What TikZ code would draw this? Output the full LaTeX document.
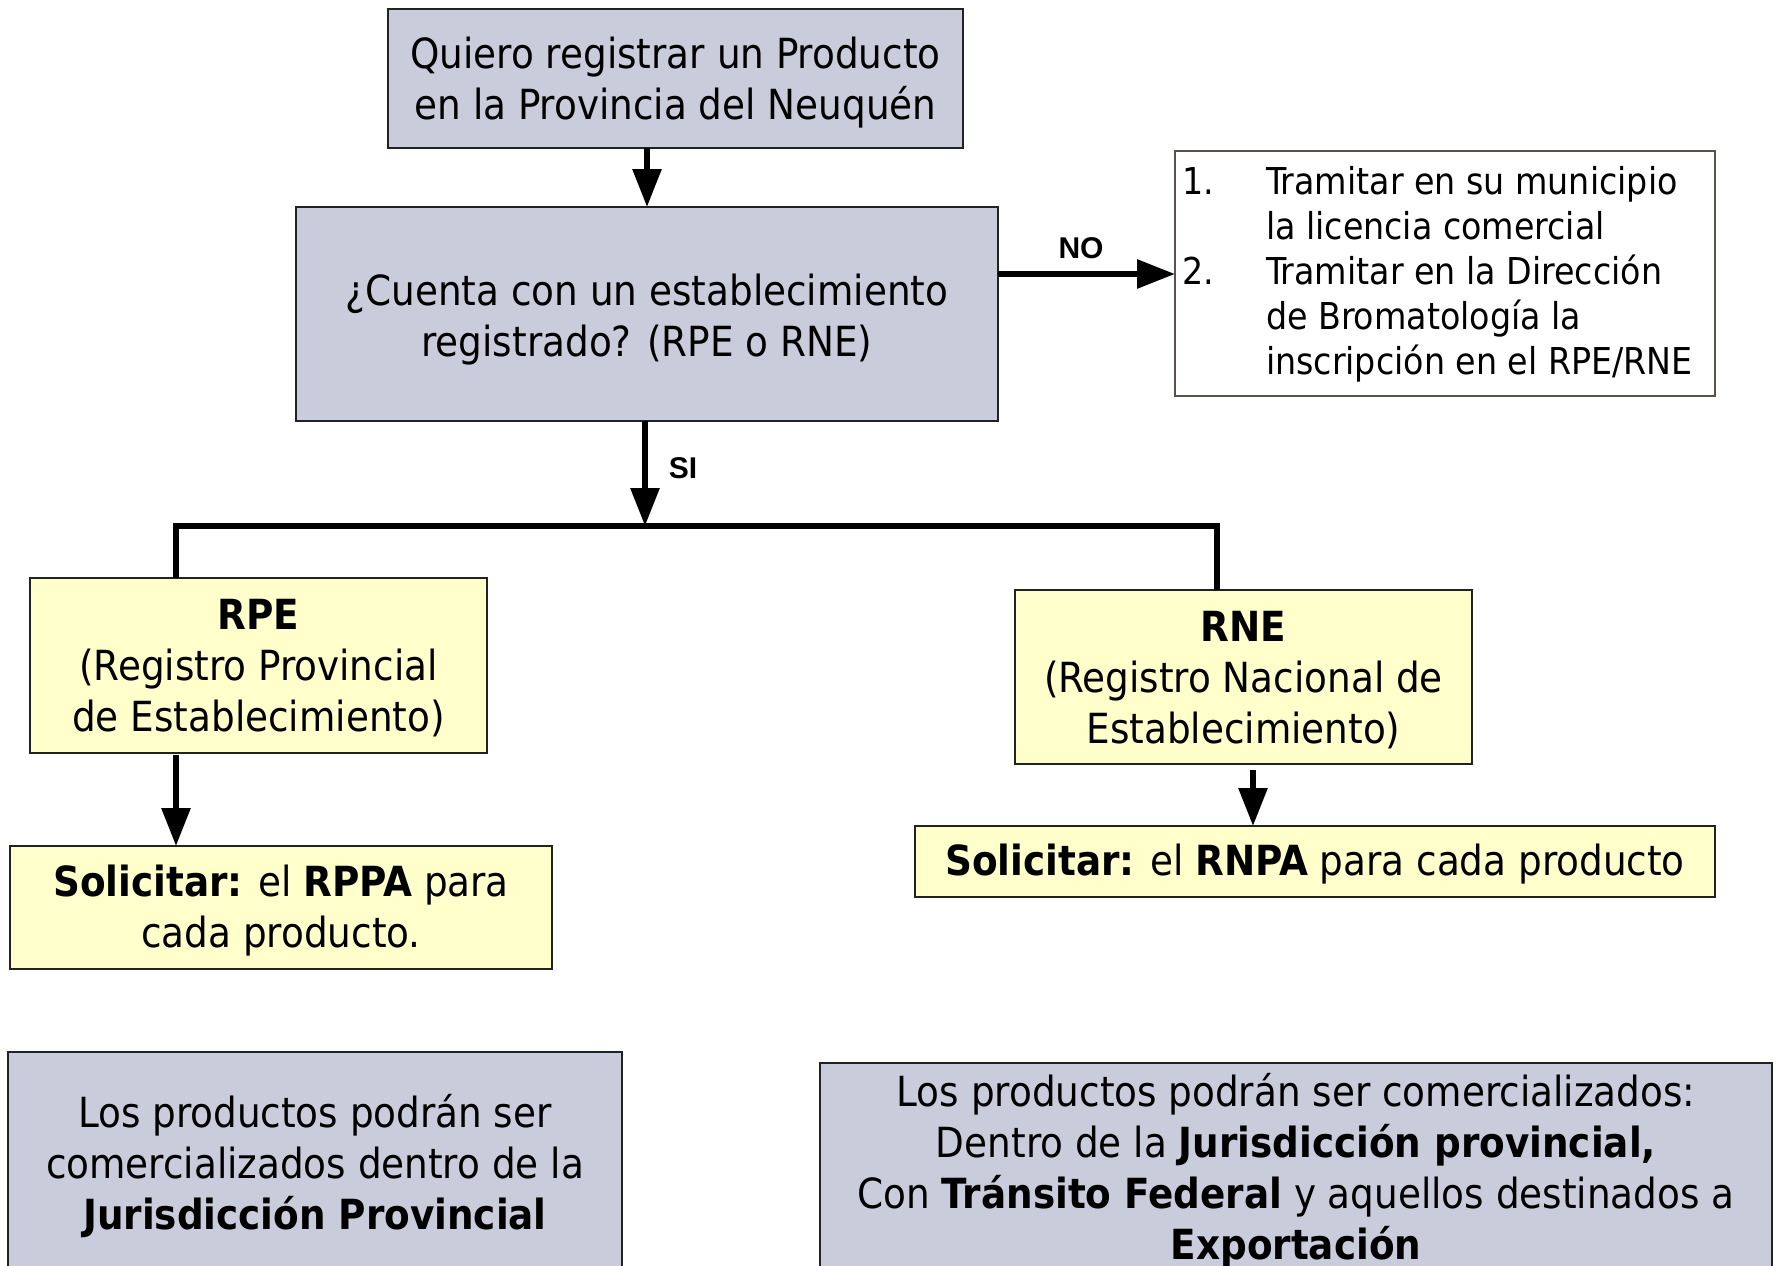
\documentclass[tikz,border=0pt]{standalone}
\usepackage{fontspec}
\setmainfont{DejaVu Sans Condensed}
\newfontfamily\labfont{Liberation Sans}
\usetikzlibrary{arrows.meta}
\definecolor{boxgray}{HTML}{C9CCDB}
\definecolor{boxyellow}{HTML}{FFFFCC}
\definecolor{edgedark}{HTML}{222222}
\definecolor{edgebrown}{HTML}{5A504C}
\tikzset{
  every node/.style={inner sep=0pt, outer sep=0pt},
  graybox/.style={draw=edgedark, line width=2pt, fill=boxgray},
  yelbox/.style={draw=edgedark, line width=2pt, fill=boxyellow},
  listbox/.style={draw=edgebrown, line width=2pt, fill=white},
  txt/.style={align=center, font=\fontsize{41.5}{51}\selectfont},
  arr/.style={line width=6pt, -{Triangle[length=38pt,width=28pt]}},
  plain/.style={line width=6pt},
  lab/.style={font=\labfont\bfseries\fontsize{30}{36}\selectfont},
}
\begin{document}
\begin{tikzpicture}[x=1pt,y=-1pt]
\useasboundingbox (0,0) rectangle (1781,1266);
% boxes
\node[graybox, minimum width=575pt, minimum height=139pt] (top) at (675.5,78.5) {};
\node[txt] (toptxt) at ([yshift=-4pt]top.center)
  {Quiero registrar un Producto\\en la Provincia del Neuquén};
\node[graybox, minimum width=702pt, minimum height=214pt] (q) at (647,314) {};
\node[txt] (qtxt) at ([yshift=-6pt]q.center)
  {¿Cuenta con un establecimiento\\registrado? (RPE o RNE)};
\node[listbox, minimum width=540pt, minimum height=245pt] (list) at (1445,273.5) {};
\node[anchor=north west, align=left, font=\fontsize{37}{45}\selectfont] (listtxt) at (1182,166)
  {\makebox[84pt][l]{1.}Tramitar en su municipio\\
   \hspace*{84pt}la licencia comercial\\
   \makebox[84pt][l]{2.}Tramitar en la Dirección\\
   \hspace*{84pt}de Bromatología la\\
   \hspace*{84pt}inscripción en el RPE/RNE};
\node[yelbox, minimum width=457pt, minimum height=175pt] (rpe) at (258.5,665.5) {};
\node[txt] (rpetxt) at ([yshift=-3pt]rpe.center)
  {\textbf{RPE}\\(Registro Provincial\\de Establecimiento)};
\node[yelbox, minimum width=457pt, minimum height=174pt] (rne) at (1243.5,677) {};
\node[txt] (rnetxt) at ([yshift=-3pt]rne.center)
  {\textbf{RNE}\\(Registro Nacional de\\Establecimiento)};
\node[yelbox, minimum width=542pt, minimum height=123pt] (rppa) at (281,907.5) {};
\node[txt] (rppatxt) at ([yshift=-3pt]rppa.center)
  {\textbf{Solicitar:} el \textbf{RPPA} para\\cada producto.};
\node[yelbox, minimum width=800pt, minimum height=71pt] (rnpa) at (1315,861.5) {};
\node[txt] (rnpatxt) at ([yshift=-3pt]rnpa.center)
  {\textbf{Solicitar:} el \textbf{RNPA} para cada producto};
\node[graybox, minimum width=614pt, minimum height=220pt] (bl) at (315,1162) {};
\node[txt] (bltxt) at ([yshift=-4pt]bl.center)
  {Los productos podrán ser\\comercializados dentro de la\\\textbf{Jurisdicción Provincial}};
\node[graybox, minimum width=952pt, minimum height=208pt] (br) at (1296,1167) {};
\node[txt] (brtxt) at ([yshift=-4pt]br.center)
  {Los productos podrán ser comercializados:\\Dentro de la \textbf{Jurisdicción provincial,}\\Con \textbf{Tránsito Federal} y aquellos destinados a\\\textbf{Exportación}};
% connectors
\coordinate (noy) at (0,274);
\coordinate (busL) at (176,526);
\coordinate (busC) at (645,526);
\coordinate (busR) at (1217,526);
\coordinate (rnx) at (1253,770);
\draw[arr] (q.north |- top.south) -- (q.north);
\draw[arr] (q.east |- noy) -- (list.west |- noy);
\node[lab] (nolab) at (1081,248) {NO};
\draw[arr] (q.south -| busC) -- (busC);
\node[lab] (silab) at (683,468) {SI};
\draw[plain, line join=miter] (rpe.north -| busL) -- (busL) -- (busR) -- (rne.north -| busR);
\draw[arr] ([yshift=-2pt]rpe.south -| busL) -- (rppa.north -| busL);
\draw[arr] (rnx) -- (rnpa.north -| rnx);
\end{tikzpicture}
\end{document}
